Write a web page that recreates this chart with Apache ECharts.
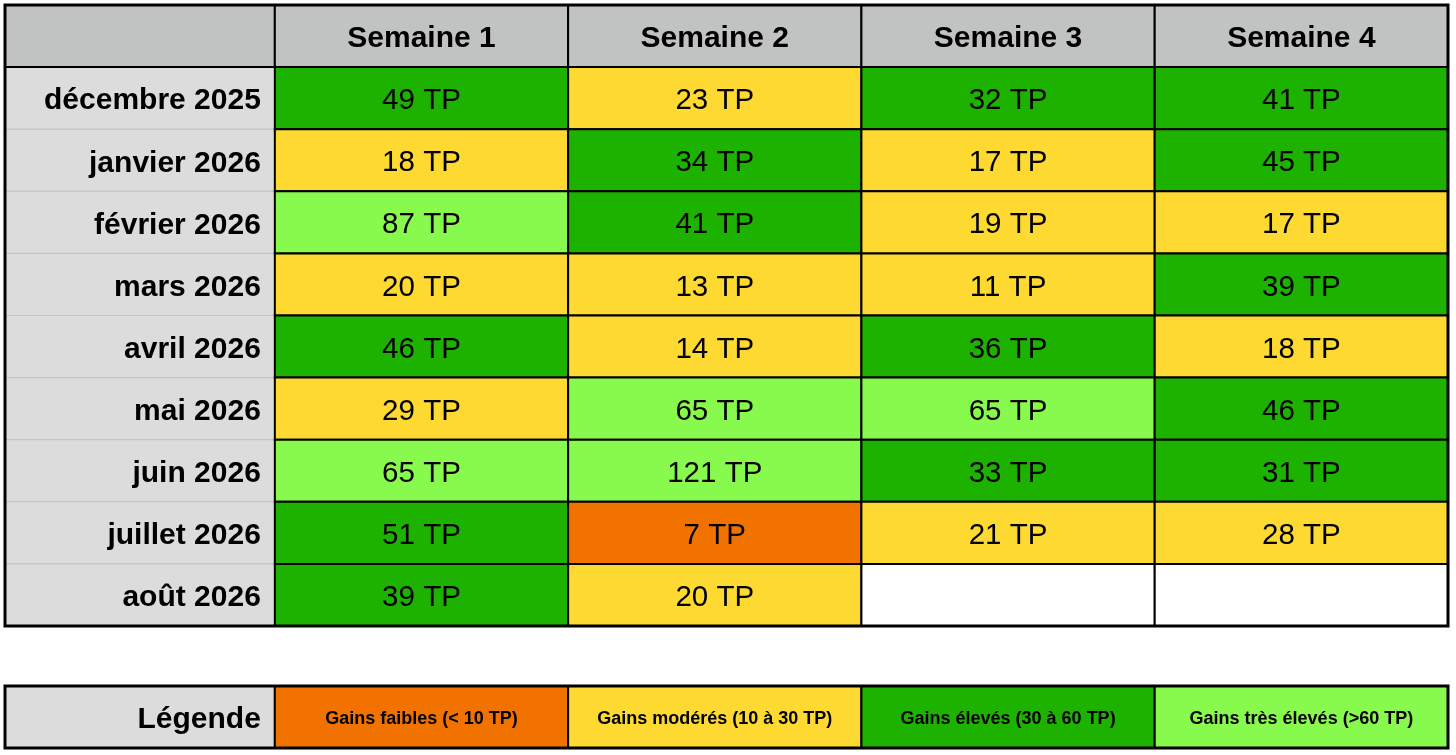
<!DOCTYPE html>
<html>
<head>
    <meta charset="utf-8">
    <script src="https://cdn.jsdelivr.net/npm/echarts@6/dist/echarts.min.js"></script>
    <style>
        html, body { margin: 0; padding: 0; background: #fff; }
    </style>
</head>
<body>
    <div id="main" style="width: 1456px;height:755px;"></div>
    <script type="text/javascript">
        // données du tableau
        var weeks = ['Semaine 1', 'Semaine 2', 'Semaine 3', 'Semaine 4'];
        var months = ['décembre 2025', 'janvier 2026', 'février 2026', 'mars 2026', 'avril 2026',
            'mai 2026', 'juin 2026', 'juillet 2026', 'août 2026'];
        var week1 = [49, 18, 87, 20, 46, 29, 65, 51, 39];
        var week2 = [23, 34, 41, 13, 14, 65, 121, 7, 20];
        var week3 = [32, 17, 19, 11, 36, 65, 33, 21, null];
        var week4 = [41, 45, 17, 39, 18, 46, 31, 28, null];
        var legendTitle = 'Légende';
        var legendLabels = ['Gains faibles (< 10 TP)', 'Gains modérés (10 à 30 TP)',
            'Gains élevés (30 à 60 TP)', 'Gains très élevés (>60 TP)'];
        var legendColors = ['#f27200', '#fed932', '#1db100', '#88fa4e'];

        var FONT = '"Liberation Sans", Arial, Helvetica, sans-serif';
        var labelWidth = -0.92; // colonne des mois, en largeur de colonne
        var dy = 3; // décalage vertical du texte

        function colorFor(v) {
            if (v == null) return '#ffffff';
            if (v < 10) return legendColors[0];
            if (v <= 30) return legendColors[1];
            if (v <= 60) return legendColors[2];
            return legendColors[3];
        }

        var cells = [];
        [week1, week2, week3, week4].forEach(function (col, i) {
            col.forEach(function (v, j) {
                cells.push([i, j + 1, v]);
            });
        });

        function rectOf(api, x0, y0, x1, y1) {
            var a = api.coord([x0, y0]);
            var b = api.coord([x1, y1]);
            return { x: a[0], y: a[1], width: b[0] - a[0], height: b[1] - a[1] };
        }

        var chart = echarts.init(document.getElementById('main'));

        chart.setOption({
            animation: false,
            grid: [
                { left: 5, top: 5, width: 1443, height: 621 },
                { left: 5, top: 686, width: 1443, height: 62 }
            ],
            xAxis: [
                { type: 'value', gridIndex: 0, min: labelWidth, max: 4, show: false },
                { type: 'value', gridIndex: 1, min: labelWidth, max: 4, show: false }
            ],
            yAxis: [
                { type: 'value', gridIndex: 0, min: 0, max: 10, inverse: true, show: false },
                { type: 'value', gridIndex: 1, min: 0, max: 1, inverse: true, show: false }
            ],
            series: [
                {
                    // colonne des mois
                    type: 'custom',
                    xAxisIndex: 0, yAxisIndex: 0,
                    data: months.map(function (m, j) { return [j + 1, m]; }),
                    renderItem: function (params, api) {
                        var r = api.value(0);
                        var s = rectOf(api, labelWidth, r, 0, r + 1);
                        return {
                            type: 'group',
                            children: [
                                { type: 'rect', shape: s, style: { fill: '#dcdcdc', stroke: '#c4c4c4', lineWidth: 1 } },
                                {
                                    type: 'text',
                                    style: {
                                        text: months[params.dataIndex],
                                        x: s.x + s.width - 14, y: s.y + s.height / 2 + dy,
                                        align: 'right', verticalAlign: 'middle',
                                        font: 'bold 30px ' + FONT, fill: '#000'
                                    }
                                }
                            ]
                        };
                    }
                },
                {
                    // en-tête
                    type: 'custom',
                    xAxisIndex: 0, yAxisIndex: 0,
                    data: [[-1, '']].concat(weeks.map(function (w, i) { return [i, w]; })),
                    renderItem: function (params, api) {
                        var c = api.value(0);
                        var s = c < 0 ? rectOf(api, labelWidth, 0, 0, 1) : rectOf(api, c, 0, c + 1, 1);
                        return {
                            type: 'group',
                            children: [
                                { type: 'rect', shape: s, style: { fill: '#c1c3c2', stroke: '#000', lineWidth: 2 } },
                                {
                                    type: 'text',
                                    style: {
                                        text: c < 0 ? '' : weeks[c],
                                        x: s.x + s.width / 2, y: s.y + s.height / 2 + dy,
                                        align: 'center', verticalAlign: 'middle',
                                        font: 'bold 30px ' + FONT, fill: '#000'
                                    }
                                }
                            ]
                        };
                    }
                },
                {
                    // gains par semaine
                    type: 'custom',
                    xAxisIndex: 0, yAxisIndex: 0,
                    data: cells,
                    renderItem: function (params, api) {
                        var c = api.value(0), r = api.value(1);
                        var v = cells[params.dataIndex][2];
                        var s = rectOf(api, c, r, c + 1, r + 1);
                        return {
                            type: 'group',
                            children: [
                                { type: 'rect', shape: s, style: { fill: colorFor(v), stroke: '#000', lineWidth: 2 } },
                                {
                                    type: 'text',
                                    style: {
                                        text: v == null ? '' : v + ' TP',
                                        x: s.x + s.width / 2, y: s.y + s.height / 2 + dy,
                                        align: 'center', verticalAlign: 'middle',
                                        font: '29.5px ' + FONT, fill: '#000'
                                    }
                                }
                            ]
                        };
                    }
                },
                {
                    // cadre extérieur du tableau
                    type: 'custom',
                    xAxisIndex: 0, yAxisIndex: 0,
                    data: [[0]],
                    z: 5,
                    renderItem: function (params, api) {
                        return {
                            type: 'rect',
                            shape: rectOf(api, labelWidth, 0, 4, 10),
                            style: { fill: 'none', stroke: '#000', lineWidth: 3 }
                        };
                    }
                },
                {
                    // légende
                    type: 'custom',
                    xAxisIndex: 1, yAxisIndex: 1,
                    data: [[-1]].concat(legendLabels.map(function (l, i) { return [i]; })),
                    renderItem: function (params, api) {
                        var c = api.value(0);
                        if (c < 0) {
                            var s0 = rectOf(api, labelWidth, 0, 0, 1);
                            return {
                                type: 'group',
                                children: [
                                    { type: 'rect', shape: s0, style: { fill: '#dcdcdc', stroke: '#000', lineWidth: 2 } },
                                    {
                                        type: 'text',
                                        style: {
                                            text: legendTitle,
                                            x: s0.x + s0.width - 14, y: s0.y + s0.height / 2 + dy,
                                            align: 'right', verticalAlign: 'middle',
                                            font: 'bold 30px ' + FONT, fill: '#000'
                                        }
                                    }
                                ]
                            };
                        }
                        var s = rectOf(api, c, 0, c + 1, 1);
                        return {
                            type: 'group',
                            children: [
                                { type: 'rect', shape: s, style: { fill: legendColors[c], stroke: '#000', lineWidth: 2 } },
                                {
                                    type: 'text',
                                    style: {
                                        text: legendLabels[c],
                                        x: s.x + s.width / 2, y: s.y + s.height / 2 + 2,
                                        align: 'center', verticalAlign: 'middle',
                                        font: 'bold 18px ' + FONT, fill: '#000'
                                    }
                                }
                            ]
                        };
                    }
                },
                {
                    // cadre extérieur de la légende
                    type: 'custom',
                    xAxisIndex: 1, yAxisIndex: 1,
                    data: [[0]],
                    z: 5,
                    renderItem: function (params, api) {
                        return {
                            type: 'rect',
                            shape: rectOf(api, labelWidth, 0, 4, 1),
                            style: { fill: 'none', stroke: '#000', lineWidth: 3 }
                        };
                    }
                }
            ]
        });
    </script>
</body>
</html>
